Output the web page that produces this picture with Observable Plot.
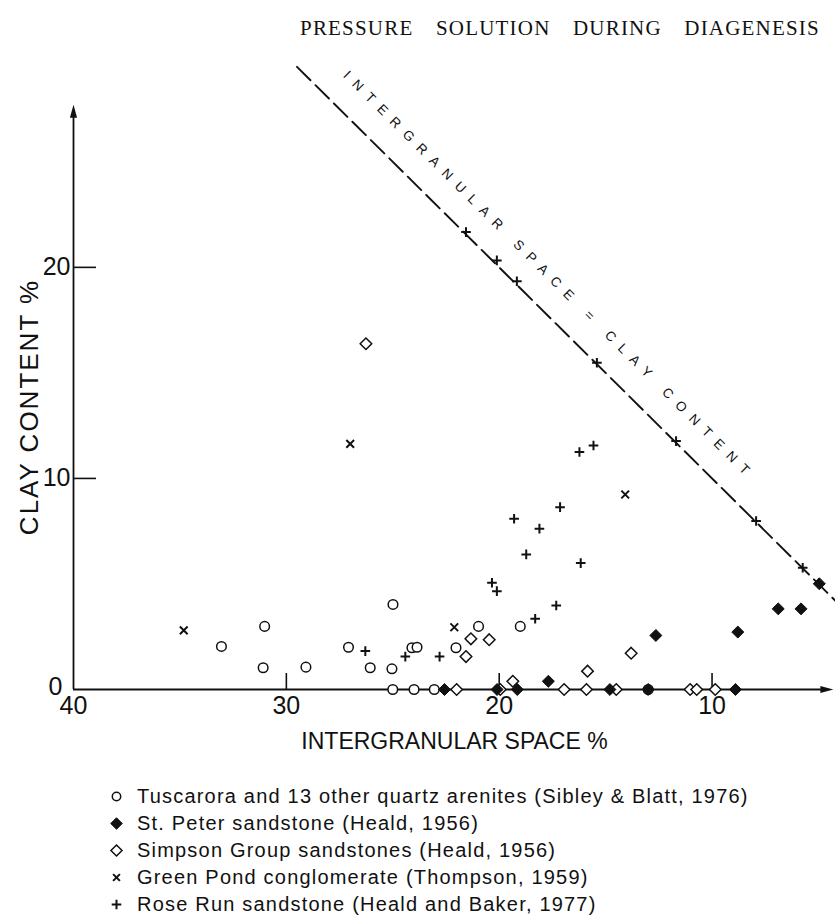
<!DOCTYPE html>
<html><head><meta charset="utf-8">
<script src="https://cdn.jsdelivr.net/npm/d3@7"></script>
<script src="https://cdn.jsdelivr.net/npm/@observablehq/plot@0.6"></script>
<style>
body{margin:0;background:#fff;width:835px;height:916px;overflow:hidden;font-family:"Liberation Sans",sans-serif;color:#111}
#title{height:50px;position:relative}
#title span{position:absolute;left:300px;top:16px;font-family:"Liberation Serif",serif;font-size:21px;word-spacing:16px;letter-spacing:1.2px;white-space:nowrap}
#legend{position:relative;height:146px}
.row{position:absolute;left:0;height:27px;line-height:27px;font-size:20px;letter-spacing:1.2px;white-space:nowrap}
.row svg{position:absolute;left:109px;top:6px}
.row span{position:absolute;left:137px}
</style></head><body>
<div id="title"><span>PRESSURE SOLUTION DURING DIAGENESIS</span></div>
<div id="chart"></div>
<div id="legend"></div>
<script>
// ---- data (x = intergranular space %, y = clay content %) ----
const seriesNames = [
  "Tuscarora and 13 other quartz arenites (Sibley & Blatt, 1976)",
  "St. Peter sandstone (Heald, 1956)",
  "Simpson Group sandstones (Heald, 1956)",
  "Green Pond conglomerate (Thompson, 1959)",
  "Rose Run sandstone (Heald and Baker, 1977)"
];
const tuscaroraX = [33.05, 31.02, 31.09, 29.08, 27.08, 26.06, 24.99, 25.04, 25.0, 24.1, 23.86, 24.0, 23.05, 22.03, 20.97, 19.01, 13.0];
const tuscaroraY = [2.04, 2.99, 1.03, 1.06, 2.0, 1.03, 4.03, 0.98, 0, 1.98, 2.0, 0, 0, 1.98, 2.99, 2.99, 0];
const stPeterX = [22.57, 20.1, 19.15, 17.69, 14.8, 13.0, 12.64, 8.9, 8.79, 6.89, 5.82, 4.96];
const stPeterY = [0, 0, 0, 0.39, 0, 0, 2.56, 0, 2.72, 3.82, 3.82, 5.01];
const simpsonX = [26.26, 22.0, 21.56, 21.33, 20.47, 19.95, 19.36, 16.95, 15.9, 15.85, 14.5, 13.8, 11.03, 10.72, 9.85];
const simpsonY = [16.38, 0, 1.56, 2.4, 2.36, 0, 0.39, 0, 0, 0.87, 0, 1.72, 0, 0, 0];
const greenPondX = [34.82, 27.0, 22.11, 14.08];
const greenPondY = [2.8, 11.64, 2.95, 9.24];
const roseRunX = [26.29, 24.41, 22.8, 20.34, 20.11, 19.3, 18.73, 18.11, 18.31, 17.32, 17.14, 16.23, 15.57, 16.17, 21.56, 20.11, 19.17, 15.41, 11.69, 7.93, 5.74];
const roseRunY = [1.82, 1.56, 1.56, 5.06, 4.66, 8.09, 6.4, 7.62, 3.35, 3.98, 8.64, 11.25, 11.56, 5.99, 21.67, 20.33, 19.34, 15.48, 11.77, 7.98, 5.77];
// reference line: intergranular space = clay content
const equalLineX = [29.5, 0];
const equalLineY = [29.5, 0];
const equalLineLabel = "INTERGRANULAR SPACE = CLAY CONTENT";
const xTicks = [30, 20, 10];
const xTickLabels = ["40", "30", "20", "10"];
const xTickLabelValues = [40, 30, 20, 10];
const yTicks = [10, 20];
const yTickLabels = ["10", "20"];
const xTitle = "INTERGRANULAR SPACE %";
const yTitle = "CLAY CONTENT %";

const ink = "#111";
const rows = (xs, ys) => xs.map((x, i) => ({x, y: ys[i]}));
const tusc = rows(tuscaroraX, tuscaroraY);
const stp = rows(stPeterX, stPeterY);
const simp = rows(simpsonX, simpsonY);
const gp = rows(greenPondX, greenPondY);
const rr = rows(roseRunX, roseRunY);
const eq = rows(equalLineX, equalLineY);

const arrowUp = {draw(ctx){ ctx.moveTo(0,0); ctx.lineTo(3.6,13); ctx.lineTo(-3.6,13); ctx.closePath(); }};
const arrowRight = {draw(ctx){ ctx.moveTo(0,0); ctx.lineTo(-13,3.6); ctx.lineTo(-13,-3.6); ctx.closePath(); }};

const X0 = 40, Y0 = 0, XEND = 4.3, YEND = 27.7;

const plot = Plot.plot({
  width: 835, height: 720,
  marginLeft: 73, marginRight: 0, marginTop: 48, marginBottom: 81,
  x: {domain: [40, 4.2], axis: null},
  y: {domain: [0, 28], axis: null},
  style: {fontFamily: "'Liberation Sans', sans-serif", color: ink, background: "white"},
  marks: [
    // dashed equality line
    Plot.line(eq, {x: "x", y: "y", stroke: ink, strokeWidth: 1.9, strokeDasharray: "19,7"}),
    Plot.text([equalLineLabel], {x: () => 17.64, y: () => 19.6, rotate: 44.8, fontSize: 13.5, fill: ink, className: "diag"}),
    // axes
    Plot.ruleX([X0], {y1: Y0, y2: YEND - 0.3, stroke: ink, strokeWidth: 1.8}),
    Plot.ruleY([Y0], {x1: X0, x2: XEND + 0.3, stroke: ink, strokeWidth: 1.8}),
    Plot.dot([0], {x: () => X0, y: () => YEND, symbol: arrowUp, fill: ink, stroke: "none"}),
    Plot.dot([0], {x: () => XEND, y: () => Y0, symbol: arrowRight, fill: ink, stroke: "none"}),
    Plot.ruleY(yTicks, {x1: X0, x2: X0 - 1.08, stroke: ink, strokeWidth: 1.6}),
    Plot.ruleX(xTicks, {y1: Y0, y2: 0.76, stroke: ink, strokeWidth: 1.6}),
    Plot.text(xTickLabelValues, {x: d => d, y: () => Y0, text: (d, i) => xTickLabels[i], lineAnchor: "top", dy: 7, fontSize: 25, fill: ink}),
    Plot.text(yTicks, {x: () => X0, y: d => d, text: (d, i) => yTickLabels[i], textAnchor: "end", dx: -3, fontSize: 25, fill: ink}),
    Plot.text(["0"], {x: () => X0, y: () => Y0, textAnchor: "end", dx: -11, dy: -3, fontSize: 25, fill: ink}),
    Plot.text([yTitle], {frameAnchor: "left", textAnchor: "middle", rotate: -90, dx: -44, dy: 13, fontSize: 26, fill: ink, className: "ytitle"}),
    Plot.text([xTitle], {frameAnchor: "bottom", dy: 59, fontSize: 23, fill: ink}),
    // data
    Plot.dot(tusc, {x: "x", y: "y", symbol: "circle", r: 4.8, fill: "white", stroke: ink, strokeWidth: 1.5}),
    Plot.dot(simp, {x: "x", y: "y", symbol: "diamond2", r: 5.2, fill: "white", stroke: ink, strokeWidth: 1.5}),
    Plot.dot(stp, {x: "x", y: "y", symbol: "diamond2", r: 5.4, fill: ink, stroke: ink, strokeWidth: 1}),
    Plot.dot(gp, {x: "x", y: "y", symbol: "times", r: 3.6, fill: "none", stroke: ink, strokeWidth: 2}),
    Plot.dot(rr, {x: "x", y: "y", symbol: "plus", r: 3.2, fill: "none", stroke: ink, strokeWidth: 2})
  ]
});
document.getElementById("chart").appendChild(plot);
d3.select(plot).selectAll(".diag text").style("letter-spacing", "8.6px");
d3.select(plot).selectAll(".ytitle text").style("letter-spacing", "2px");

// legend
const legendSymbols = [
  {type: d3.symbolCircle, r: 4.2, fill: "white", sw: 1.5},
  {type: d3.symbolDiamond2, r: 5.2, fill: ink, sw: 1},
  {type: d3.symbolDiamond2, r: 5.0, fill: "white", sw: 1.5},
  {type: d3.symbolTimes, r: 3.2, fill: "none", sw: 2},
  {type: d3.symbolPlus, r: 3.2, fill: "none", sw: 2}
];
const legend = d3.select("#legend");
seriesNames.forEach((name, i) => {
  const row = legend.append("div").attr("class", "row").style("top", (13 + i * 27) + "px").style("width", "835px");
  const s = legendSymbols[i];
  const svg = row.append("svg").attr("width", 15).attr("height", 15);
  svg.append("path").attr("transform", "translate(7.5,7.5)")
    .attr("d", d3.symbol(s.type, s.r * s.r * Math.PI)())
    .attr("fill", s.fill).attr("stroke", ink).attr("stroke-width", s.sw);
  row.append("span").text(name);
});
</script>
</body></html>
